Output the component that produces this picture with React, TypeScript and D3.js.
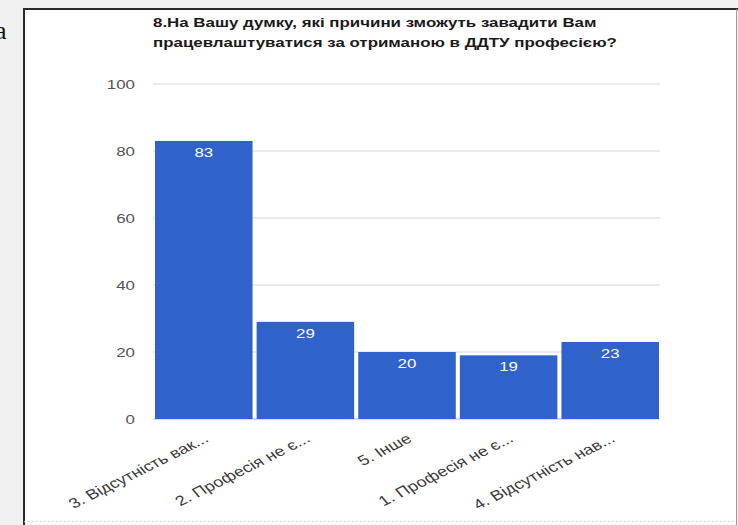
import React from "react";
import * as d3 from "d3";

const categories = [
  "3. Відсутність вак...",
  "2. Професія не є...",
  "5. Інше",
  "1. Професія не є...",
  "4. Відсутність нав...",
];
const values = [83, 29, 20, 19, 23];
const yTicks = [0, 20, 40, 60, 80, 100];
const titleLines = [
  "8.На Вашу думку, які причини зможуть завадити Вам",
  "працевлаштуватися за отриманою в ДДТУ професією?",
];

export default function App() {
  const W = 738;
  const H = 525;
  const SX = 1.3;
  const x = d3.scaleBand<string>().domain(categories).range([155, 659]).paddingInner(0.04).paddingOuter(0);
  const y = d3.scaleLinear().domain([0, 100]).range([419, 84]);
  const font = "'Liberation Sans', Arial, sans-serif";
  return (
    <svg width={W} height={H} style={{ position: "absolute", left: 0, top: 0 }}>
      <rect x={0} y={0} width={W} height={H} fill="#f1f1f1" />
      <rect x={24} y={9} width={712} height={H} fill="#ffffff" />
      <line x1={23} y1={9} x2={738} y2={9} stroke="#2a2a2a" strokeWidth={2} />
      <line x1={24} y1={8} x2={24} y2={H} stroke="#2a2a2a" strokeWidth={2} />
      <line x1={736.5} y1={9} x2={736.5} y2={H} stroke="#9a9a9a" strokeWidth={1} />
      <line x1={24} y1={521.5} x2={736} y2={521.5} stroke="#c8c8c8" strokeWidth={1} strokeDasharray="1 3" />
      <text x={-5} y={39} fontFamily="'Liberation Serif', serif" fontSize={26} fill="#111">а</text>
      {titleLines.map((t, i) => (
        <text
          key={i}
          transform={`translate(153,${27 + i * 20}) scale(${SX},1)`}
          fontFamily={font}
          fontWeight="bold"
          fontSize={13}
          fill="#1a1a1a"
        >
          {t}
        </text>
      ))}
      {yTicks.map((t) => (
        <g key={t}>
          <line x1={153} x2={660} y1={y(t)} y2={y(t)} stroke={t === 0 ? "#cfcfcf" : "#e4e4e4"} strokeWidth={1.5} />
          <text
            transform={`translate(135,${y(t) + 5}) scale(${SX},1)`}
            textAnchor="end"
            fontFamily={font}
            fontSize={13}
            fill="#555"
          >
            {t}
          </text>
        </g>
      ))}
      {categories.map((c, i) => (
        <g key={c}>
          <rect x={x(c)} y={y(values[i])} width={x.bandwidth()} height={y(0) - y(values[i])} fill="#3062cc" />
          <text
            transform={`translate(${(x(c) as number) + x.bandwidth() / 2},${y(values[i]) + 16}) scale(${SX},1)`}
            textAnchor="middle"
            fontFamily={font}
            fontSize={13}
            fill="#ffffff"
          >
            {values[i]}
          </text>
          <text
            transform={`translate(${(x(c) as number) + x.bandwidth() / 2 + 6},${441}) scale(${SX},1) rotate(-33)`}
            textAnchor="end"
            fontFamily={font}
            fontSize={14}
            fill="#3a3a3a"
          >
            {c}
          </text>
        </g>
      ))}
    </svg>
  );
}
